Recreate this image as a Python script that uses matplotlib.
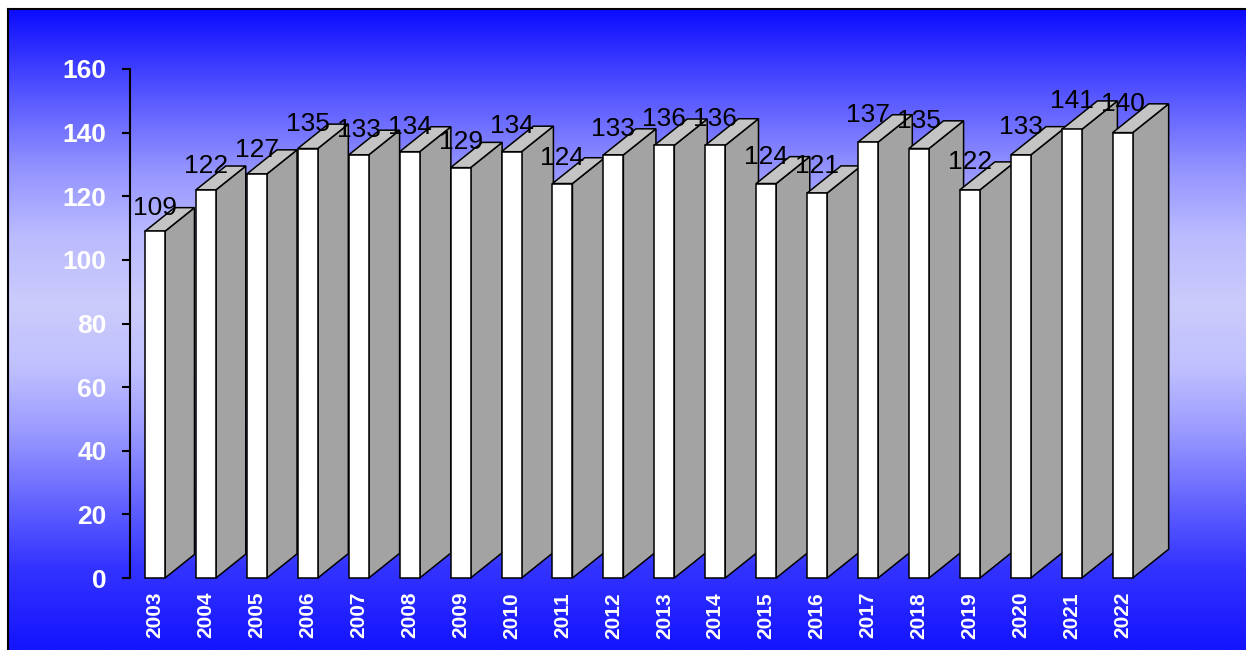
import numpy as np
import matplotlib.pyplot as plt
from matplotlib.patches import Polygon, Rectangle
from matplotlib.colors import LinearSegmentedColormap

plt.rcParams['font.family'] = ['Liberation Sans', 'DejaVu Sans']

years = [str(y) for y in range(2003, 2023)]
values = [109, 122, 127, 135, 133, 134, 129, 134, 124, 133,
          136, 136, 124, 121, 137, 135, 122, 133, 141, 140]
yticks = [0, 20, 40, 60, 80, 100, 120, 140, 160]

W, H = 1246, 650
fig = plt.figure(figsize=(W / 100, H / 100), dpi=100, facecolor='white')

# background panel, vertical blue -> pale -> blue gradient
bg = fig.add_axes([8 / W, 0, 1 - 8 / W, (H - 9) / H])
cmap = LinearSegmentedColormap.from_list(
    'bg', [(0, '#0c0cff'), (0.14, '#5a5aff'), (0.25, '#9494ff'), (0.35, '#babaff'),
           (0.46, '#cbcbfb'), (0.56, '#c0c0ff'), (0.66, '#9a9aff'), (0.77, '#6464ff'),
           (0.87, '#3434ff'), (1, '#1414ff')])
bg.imshow(np.linspace(0, 1, 512).reshape(-1, 1), aspect='auto', cmap=cmap,
          extent=[0, 1, 0, 1])
bg.set_xticks([])
bg.set_yticks([])
for s in ['right', 'bottom']:
    bg.spines[s].set_visible(False)
for s in ['left', 'top']:
    bg.spines[s].set_linewidth(1.5)

# main axes, placed in pixels
left, right, bottom, top = 130, 1200, 72, 581
ax = fig.add_axes([left / W, bottom / H, (right - left) / W, (top - bottom) / H])
ax.patch.set_alpha(0)
x0 = -25 / 50.93
ax.set_xlim(x0, x0 + (right - left) / 50.93)
ax.set_ylim(0, 160)
xpx = 50.93
ypx = (top - bottom) / 160

hw = 10 / xpx
for i, v in enumerate(values):
    dx_px = 29.5 + 6.5 * i / 19
    dy_px = 0.8 * dx_px
    ddx, ddy = dx_px / xpx, dy_px / ypx
    z = 2 + i * 0.01
    ax.add_patch(Polygon([(i + hw, 0), (i + hw + ddx, ddy), (i + hw + ddx, v + ddy), (i + hw, v)],
                         closed=True, facecolor='#a3a3a3', edgecolor='black', lw=1.1,
                         zorder=z, clip_on=False))
    ax.add_patch(Polygon([(i - hw, v), (i - hw + ddx, v + ddy), (i + hw + ddx, v + ddy), (i + hw, v)],
                         closed=True, facecolor='#c4c4c4', edgecolor='black', lw=1.1,
                         zorder=z, clip_on=False))
    ax.add_patch(Rectangle((i - hw, 0), 2 * hw, v, facecolor='white', edgecolor='black',
                           lw=1.1, zorder=z, clip_on=False))
    ax.text(i, v + ddy, str(v), ha='center', va='center', fontsize=19,
            color='black', zorder=5)

for s in ['right', 'top', 'bottom']:
    ax.spines[s].set_visible(False)
ax.spines['left'].set_linewidth(1.5)

ax.set_yticks(yticks)
ax.tick_params(axis='y', direction='out', length=6, width=1.5, color='black',
               labelcolor='white', labelsize=19, pad=11)
for lab in ax.get_yticklabels():
    lab.set_fontweight('bold')

ax.set_xticks(range(len(years)))
ax.set_xticklabels(years, rotation=90, fontsize=15, fontweight='bold', color='white')
ax.tick_params(axis='x', length=0, pad=10)

fig.savefig('out.png', dpi=100, facecolor='white')
